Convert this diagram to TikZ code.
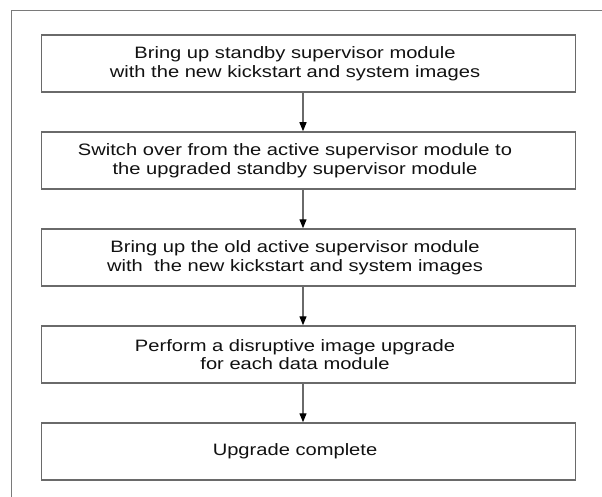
\documentclass[tikz,border=0pt]{standalone}
\usepackage{fontspec}
\setmainfont{Liberation Sans}[FakeStretch=1.22]
\usetikzlibrary{arrows.meta}
\definecolor{boxgray}{HTML}{6A6A6A}
\definecolor{framegray}{HTML}{7A7A7A}
\definecolor{txtgray}{HTML}{111111}
\tikzset{
  stepbox/.style={draw=boxgray, line width=1.5pt, minimum width=534pt, minimum height=57pt, inner sep=0pt},
  steptext/.style={text=txtgray, align=center, font=\fontsize{16.5pt}{18.5pt}\selectfont},
  flow/.style={boxgray, line width=1.3pt, -{Triangle[width=7pt,length=9pt,fill=black,color=black]}}
}
\begin{document}
\begin{tikzpicture}[x=1pt, y=-1pt]
		\useasboundingbox (0,0) rectangle (602,497);
		% Ramme
		\draw[framegray, line width=1pt] (11,497) -- (11,11) -- (602,11);

		% Trinn
		\node[stepbox] (s1) at (308.5,63.5) {};
		\node[stepbox] (s2) at (308.5,160.5) {};
		\node[stepbox] (s3) at (308.5,257.5) {};
		\node[stepbox] (s4) at (308.5,354.5) {};
		\node[stepbox] (s5) at (308.5,451.5) {};

		% Tekst
		\node[steptext] (t1) at (295,63.5) {Bring up standby supervisor module\\with the new kickstart and system images};
		\node[steptext] (t2) at (295,160.5) {Switch over from the active supervisor module to\\the upgraded standby supervisor module};
		\node[steptext] (t3) at (295,257.5) {Bring up the old active supervisor module\\with\ \ the new kickstart and system images};
		\node[steptext] (t4) at (295,354.5) {Perform a disruptive image upgrade\\for each data module};
		\node[steptext] (t5) at (295,451.5) {Upgrade complete};

		% Piler
		\coordinate (ax) at (303,0);
		\draw[flow] (s1.south -| ax) -- (s2.north -| ax);
		\draw[flow] (s2.south -| ax) -- (s3.north -| ax);
		\draw[flow] (s3.south -| ax) -- (s4.north -| ax);
		\draw[flow] (s4.south -| ax) -- (s5.north -| ax);
	\end{tikzpicture}
\end{document}
